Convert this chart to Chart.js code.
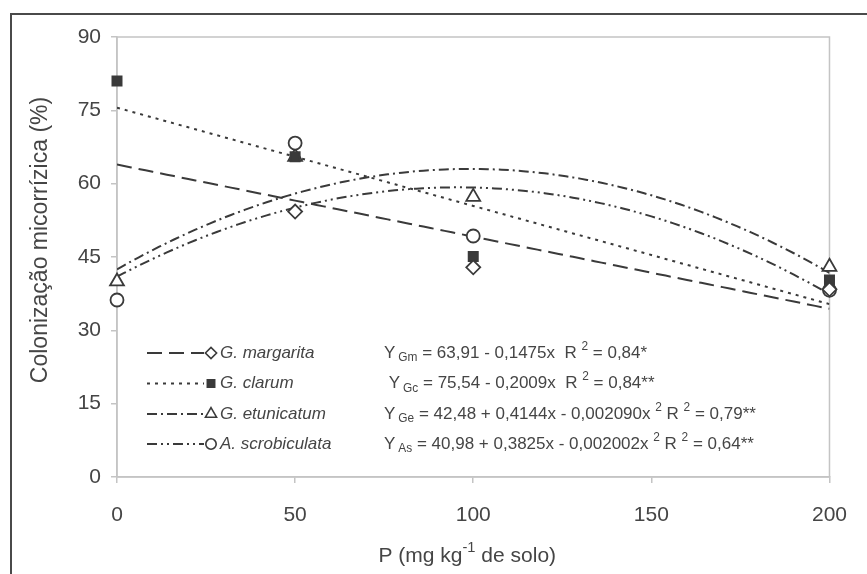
<!DOCTYPE html>
<html>
<head>
<meta charset="utf-8">
<script src="https://cdn.jsdelivr.net/npm/chart.js@4.4.0/dist/chart.umd.min.js"></script>
<style>
  html, body { margin: 0; padding: 0; background: #fff; }
  #wrap { width: 867px; height: 574px; position: relative; }
</style>
</head>
<body>
<div id="wrap"><canvas id="c" width="867" height="574"></canvas></div>
<script>
// P doses (mg kg-1 de solo)
const doses = [0, 50, 100, 200];

// observed colonization (%) per species
const margarita    = [null, 54.3, 42.9, 38.4];
const clarum       = [81.0, 65.5, 45.1, 40.3];
const etunicatum   = [40.0, 65.5, 57.3, 43.0];
const scrobiculata = [36.2, 68.3, 49.3, 38.2];

// regression coefficients [a, b, c] of y = a + b·x + c·x²
const coefMargarita    = [63.91, -0.1475, 0];
const coefClarum       = [75.54, -0.2009, 0];
const coefEtunicatum   = [42.48, 0.4144, -0.002090];
const coefScrobiculata = [40.98, 0.3825, -0.002002];

// legend names and fitted equations
const speciesNames = ['G. margarita', 'G. clarum', 'G. etunicatum', 'A. scrobiculata'];
const equations = [
  [['Y', 'n'], ['Gm', 'sub'], [' = 63,91 - 0,1475x  R ', 'n'], ['2', 'sup'], [' = 0,84*', 'n']],
  [[' Y', 'n'], ['Gc', 'sub'], [' = 75,54 - 0,2009x  R ', 'n'], ['2', 'sup'], [' = 0,84**', 'n']],
  [['Y', 'n'], ['Ge', 'sub'], [' = 42,48 + 0,4144x - 0,002090x ', 'n'], ['2', 'sup'], [' R ', 'n'], ['2', 'sup'], [' = 0,79**', 'n']],
  [['Y', 'n'], ['As', 'sub'], [' = 40,98 + 0,3825x - 0,002002x ', 'n'], ['2', 'sup'], [' R ', 'n'], ['2', 'sup'], [' = 0,64**', 'n']]
];

const xTicks = [0, 50, 100, 150, 200];
const yTicks = [0, 15, 30, 45, 60, 75, 90];

const FONT = '"Liberation Sans", Arial, Helvetica, sans-serif';
const INK = '#3a3a3a';
const TEXT = '#454545';
const AXIS = '#c4c4c4';

function points(ys) {
  return doses.map((x, i) => ({ x: x, y: ys[i] })).filter(p => p.y !== null);
}
function curve(coef) {
  const pts = [];
  for (let x = 0; x <= 200; x += 2) {
    pts.push({ x: x, y: coef[0] + coef[1] * x + coef[2] * x * x });
  }
  return pts;
}

const styles = [
  { dash: [15, 7],             style: 'rectRot',  radius: 7,   fill: '#fff', data: margarita,    coef: coefMargarita,    order: 1 },
  { dash: [3, 5],              style: 'rect',     radius: 6.5, fill: INK,    data: clarum,       coef: coefClarum,       order: 2 },
  { dash: [10, 4, 2, 4],       style: 'triangle', radius: 8,   fill: '#fff', data: etunicatum,   coef: coefEtunicatum,   order: 4 },
  { dash: [10, 4, 2, 4, 2, 4], style: 'circle',   radius: 6.5, fill: '#fff', data: scrobiculata, coef: coefScrobiculata, order: 3 }
];

const datasets = [];
styles.forEach((s, i) => {
  datasets.push({
    label: speciesNames[i] + ' (ajuste)',
    data: curve(s.coef),
    showLine: true,
    borderColor: INK,
    borderWidth: 2,
    borderDash: s.dash,
    pointRadius: 0,
    fill: false,
    order: 10
  });
});
styles.forEach((s, i) => {
  datasets.push({
    label: speciesNames[i],
    data: points(s.data),
    showLine: false,
    pointStyle: s.style,
    pointRadius: s.radius,
    pointBackgroundColor: s.fill,
    pointBorderColor: INK,
    pointBorderWidth: 1.8,
    clip: false,
    order: s.order
  });
});

// rich text with sub/superscripts
function drawRich(ctx, segs, x, y, size) {
  let cx = x;
  segs.forEach(([t, mode]) => {
    let fs = size, dy = 0;
    if (mode === 'sub') { fs = size * 0.7; dy = size * 0.3; cx += 3; }
    if (mode === 'sup') { fs = size * 0.7; dy = -size * 0.38; }
    ctx.font = fs + 'px ' + FONT;
    ctx.fillText(t, cx, y + dy);
    cx += ctx.measureText(t).width;
  });
}

const decor = {
  id: 'decor',
  beforeDraw(chart) {
    const ctx = chart.ctx;
    ctx.save();
    ctx.fillStyle = '#fff';
    ctx.fillRect(0, 0, chart.width, chart.height);
    // figure frame
    ctx.strokeStyle = '#4a4a4a';
    ctx.lineWidth = 2;
    ctx.beginPath();
    ctx.moveTo(11, chart.height);
    ctx.lineTo(11, 14);
    ctx.lineTo(chart.width, 14);
    ctx.stroke();
    ctx.restore();
  },
  beforeDatasetsDraw(chart) {
    const ctx = chart.ctx, a = chart.chartArea;
    ctx.save();
    ctx.strokeStyle = AXIS;
    ctx.lineWidth = 1.5;
    ctx.strokeRect(a.left, a.top, a.right - a.left, a.bottom - a.top);
    ctx.restore();
  },
  afterDraw(chart) {
    const ctx = chart.ctx;
    const xs = chart.scales.x;
    ctx.save();
    ctx.fillStyle = TEXT;
    ctx.textBaseline = 'middle';

    // y-axis title
    ctx.save();
    ctx.translate(41, 240);
    ctx.rotate(-Math.PI / 2);
    ctx.textAlign = 'center';
    ctx.font = '23px ' + FONT;
    ctx.fillText('Colonização micorrízica (%)', 0, 0);
    ctx.restore();

    // x-axis title with superscript
    const title = [['P (mg kg', 'n'], ['-1', 'sup'], [' de solo)', 'n']];
    let w = 0;
    title.forEach(([t, m]) => {
      ctx.font = (m === 'n' ? 21 : 21 * 0.7) + 'px ' + FONT;
      w += ctx.measureText(t).width;
    });
    drawRich(ctx, title, (xs.left + xs.right) / 2 - w / 2 - 6, 556, 21);

    // legend with fitted equations
    const rowY = [353, 383.5, 414, 444];
    styles.forEach((s, i) => {
      const y = rowY[i];
      ctx.strokeStyle = INK;
      ctx.lineWidth = 2;
      ctx.setLineDash(s.dash);
      ctx.beginPath();
      ctx.moveTo(147, y);
      ctx.lineTo(204, y);
      ctx.stroke();
      ctx.setLineDash([]);
      ctx.fillStyle = s.fill;
      ctx.strokeStyle = INK;
      ctx.lineWidth = 1.6;
      Chart.helpers.drawPoint(ctx, { pointStyle: s.style, radius: s.radius * 0.8, borderWidth: 1.6 }, 211, y);
      ctx.fillStyle = TEXT;
      ctx.font = 'italic 17px ' + FONT;
      ctx.fillText(speciesNames[i], 220, y);
      drawRich(ctx, equations[i], 384, y, 17);
    });
    ctx.restore();
  }
};

new Chart(document.getElementById('c'), {
  type: 'scatter',
  data: { datasets: datasets },
  options: {
    responsive: false,
    animation: false,
    layout: { padding: { left: 24, right: 37, top: 37, bottom: 0 } },
    plugins: { legend: { display: false }, tooltip: { enabled: false } },
    scales: {
      x: {
        type: 'linear',
        min: 0, max: 200,
        afterBuildTicks: s => { s.ticks = xTicks.map(v => ({ value: v })); },
        afterFit: s => { s.height = 97; },
        grid: { drawOnChartArea: false, drawTicks: true, tickLength: 6, color: AXIS, lineWidth: 1.5 },
        border: { color: AXIS, width: 1.5 },
        ticks: { color: TEXT, font: { size: 21, family: FONT }, padding: 20, maxRotation: 0 }
      },
      y: {
        min: 0, max: 90,
        afterBuildTicks: s => { s.ticks = yTicks.map(v => ({ value: v })); },
        afterFit: s => { s.width = 93; },
        grid: { drawOnChartArea: false, drawTicks: true, tickLength: 6, color: AXIS, lineWidth: 1.5 },
        border: { color: AXIS, width: 1.5 },
        ticks: { color: TEXT, font: { size: 21, family: FONT }, padding: 10 }
      }
    }
  },
  plugins: [decor]
});
</script>
</body>
</html>
